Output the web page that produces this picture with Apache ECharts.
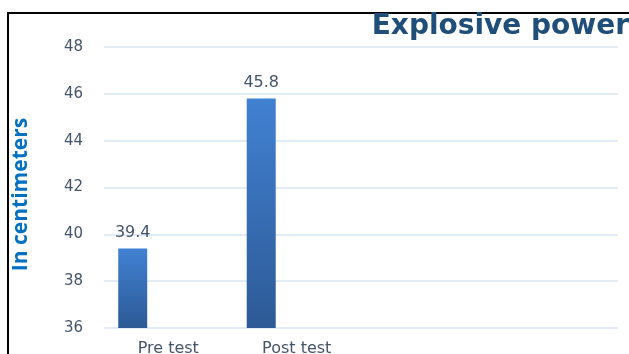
<!DOCTYPE html>
<html>
<head>
<meta charset="utf-8">
<script src="https://cdn.jsdelivr.net/npm/echarts@6/dist/echarts.min.js"></script>
<style>
  html, body { margin: 0; padding: 0; background: #fff; }
  #chart { width: 629px; height: 354px; }
</style>
</head>
<body>
<div id="chart"></div>
<script>
// data
const categories = ["Pre test", "Post test", "", ""];
const testValues = [39.4, 45.8, null, null];
const emptyValues = [null, null, null, null];
const yTicks = [36, 38, 40, 42, 44, 46, 48];

const labelColor = "#44546A";
const gridColor = "#D9E5F3";
const font = "DejaVu Sans";

const chart = echarts.init(document.getElementById("chart"));

const barColor = new echarts.graphic.LinearGradient(0, 0, 0, 1, [
  { offset: 0, color: "#4181D2" },
  { offset: 1, color: "#2D5A96" },
]);

const option = {
  backgroundColor: "#fff",
  animation: false,
  title: {
    text: "Explosive power",
    right: 0,
    top: 13,
    padding: 0,
    textStyle: {
      color: "#1F4E79",
      fontSize: 28,
      fontWeight: "bold",
      fontFamily: font,
    },
  },
  graphic: [
    {
      type: "rect",
      shape: { x: 8, y: 13, width: 700, height: 400 },
      style: { fill: "none", stroke: "#000", lineWidth: 2 },
      silent: true,
    },
  ],
  grid: {
    left: 104,
    right: 11,
    top: 47,
    bottom: 26,
    outerBoundsMode: "none",
    containLabel: false,
  },
  xAxis: {
    type: "category",
    data: categories,
    axisLine: { show: false },
    axisTick: { show: false },
    axisLabel: {
      color: labelColor,
      fontSize: 16,
      fontFamily: font,
      margin: 13,
    },
  },
  yAxis: {
    type: "value",
    min: yTicks[0],
    max: yTicks[yTicks.length - 1],
    interval: 2,
    name: "In centimeters",
    nameLocation: "middle",
    nameGap: 72,
    nameTextStyle: {
      color: "#0070C0",
      fontSize: 21,
      fontWeight: "bold",
      fontFamily: "Open Sans",
      padding: [0, 14, 0, 0],
    },
    axisLine: { show: false },
    axisTick: { show: false },
    axisLabel: {
      color: labelColor,
      fontSize: 15,
      fontFamily: font,
      margin: 21,
    },
    splitLine: {
      lineStyle: { color: gridColor, width: 1.5 },
    },
  },
  series: [
    {
      name: "Explosive power",
      type: "bar",
      data: testValues,
      barWidth: 29,
      barGap: "145%",
      itemStyle: { color: barColor },
      label: {
        show: true,
        position: "top",
        distance: 8,
        color: labelColor,
        fontSize: 16,
        fontFamily: font,
        formatter: (p) => p.value.toFixed(1),
      },
    },
    {
      name: "",
      type: "bar",
      data: emptyValues,
      barWidth: 29,
    },
  ],
};

chart.setOption(option);
</script>
</body>
</html>
